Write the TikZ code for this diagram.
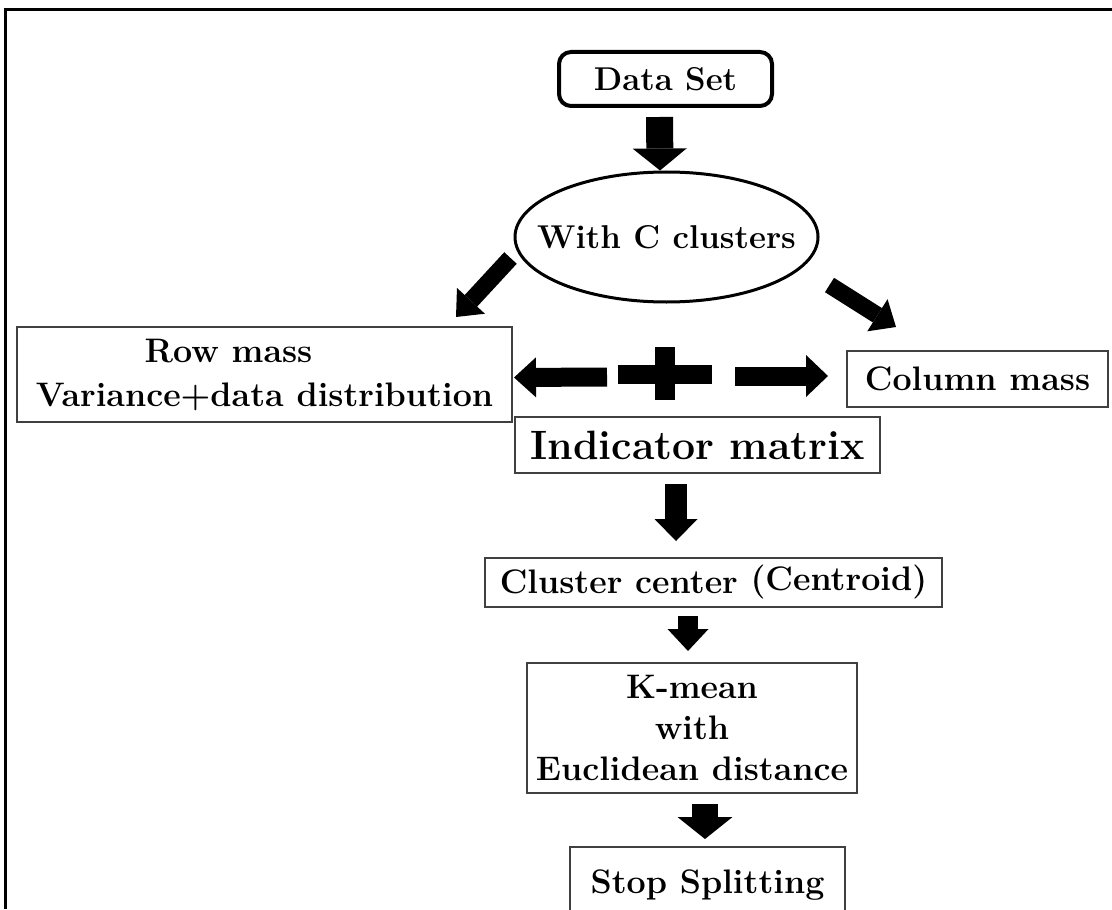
\documentclass[tikz,border=0pt]{standalone}
\usepackage{fontspec}
\usetikzlibrary{arrows.meta,shapes.geometric,calc}

\begin{document}
\begin{tikzpicture}[x=0.5pt,y=-0.5pt,
    box/.style={draw=black!75,line width=1pt,inner sep=0pt,align=center,
      font=\bfseries\fontsize{17}{22}\selectfont},
    blk/.style 2 args={line width=#1,-{Triangle[length=11pt,width=#2,line width=0pt]}}]
        \clip (0,0) rectangle (1112,909);
        \fill[white] (0,0) rectangle (1112,909);
        \draw[line width=1.5pt] (5,909)--(5,10)--(1112,10);
        \node[box,draw=black,line width=2pt,rounded corners=6pt,minimum width=106.5pt,minimum height=27pt,
          font=\bfseries\fontsize{16.5}{20}\selectfont] (data) at (665.5,79) {Data Set};
        \node[box,draw=black,ellipse,line width=1.5pt,inner xsep=-30pt,minimum width=151.5pt,minimum height=65pt,
          font=\bfseries\fontsize{16.5}{20}\selectfont] (clus) at (666.5,237) {With C clusters};
        \node[box,minimum width=247.5pt,minimum height=47.5pt] (row) at (264.5,374.5)
          {Row mass\hspace*{36pt}\\Variance+data distribution};
        \node[box,minimum width=130.5pt,minimum height=28pt] (col) at (977.5,379) {Column mass};
        \node[box,minimum width=182.5pt,minimum height=28pt,
          font=\bfseries\fontsize{20.5}{24}\selectfont] (ind) at (697.5,445) {Indicator matrix};
        \node[box,minimum width=228.5pt,minimum height=24.5pt] (cc) at (713.5,582.5)
          {Cluster center \raisebox{1.5pt}{(Centroid)}};
        \node[box,minimum width=165pt,minimum height=65pt,
          font=\bfseries\fontsize{17}{20.5}\selectfont] (km) at (692,728) {K-mean\\with\\Euclidean distance};
        \node[box,minimum width=137.5pt,minimum height=38pt] (stop) at (707.5,885) {Stop Splitting};
        \draw[blk={13.5pt}{27pt}] ($(data.south)+(-6,9)$)--($(clus.north)+(-6.5,0)$);
        \draw[blk={8.5pt}{19pt}] ($(clus.west)+(-3,21)$)--($(row.north east)+(-57,-9)$);
        \draw[blk={8.5pt}{19pt}] ($(clus.east)+(10,48)$)--($(col.north west)+(50,-23)$);
        \coordinate (plus) at (665,374);
        \draw[line width=9.5pt] ($(plus)+(-47,0)$)--($(plus)+(47,0)$);
        \draw[line width=10pt] ($(plus)+(0,-27)$)--($(plus)+(0,26)$);
        \draw[blk={9.5pt}{20pt}] ($(plus)+(-58,3)$)--($(row.east)+(1,3)$);
        \draw[blk={9.5pt}{21pt}] ($(plus)+(70,2)$)--($(col.west)+(-18,-3)$);
        \draw[blk={11pt}{21.5pt}] ($(ind.south)+(-21.5,10)$)--($(cc.north)+(-37.5,-16)$);
        \draw[blk={10pt}{20.5pt}] ($(cc.south)+(-25.5,8)$)--($(km.north)+(-4,-11)$);
        \draw[blk={13pt}{27.5pt}] ($(km.south)+(13,10)$)--($(stop.north)+(-2.5,-7)$);
      \end{tikzpicture}
\end{document}
